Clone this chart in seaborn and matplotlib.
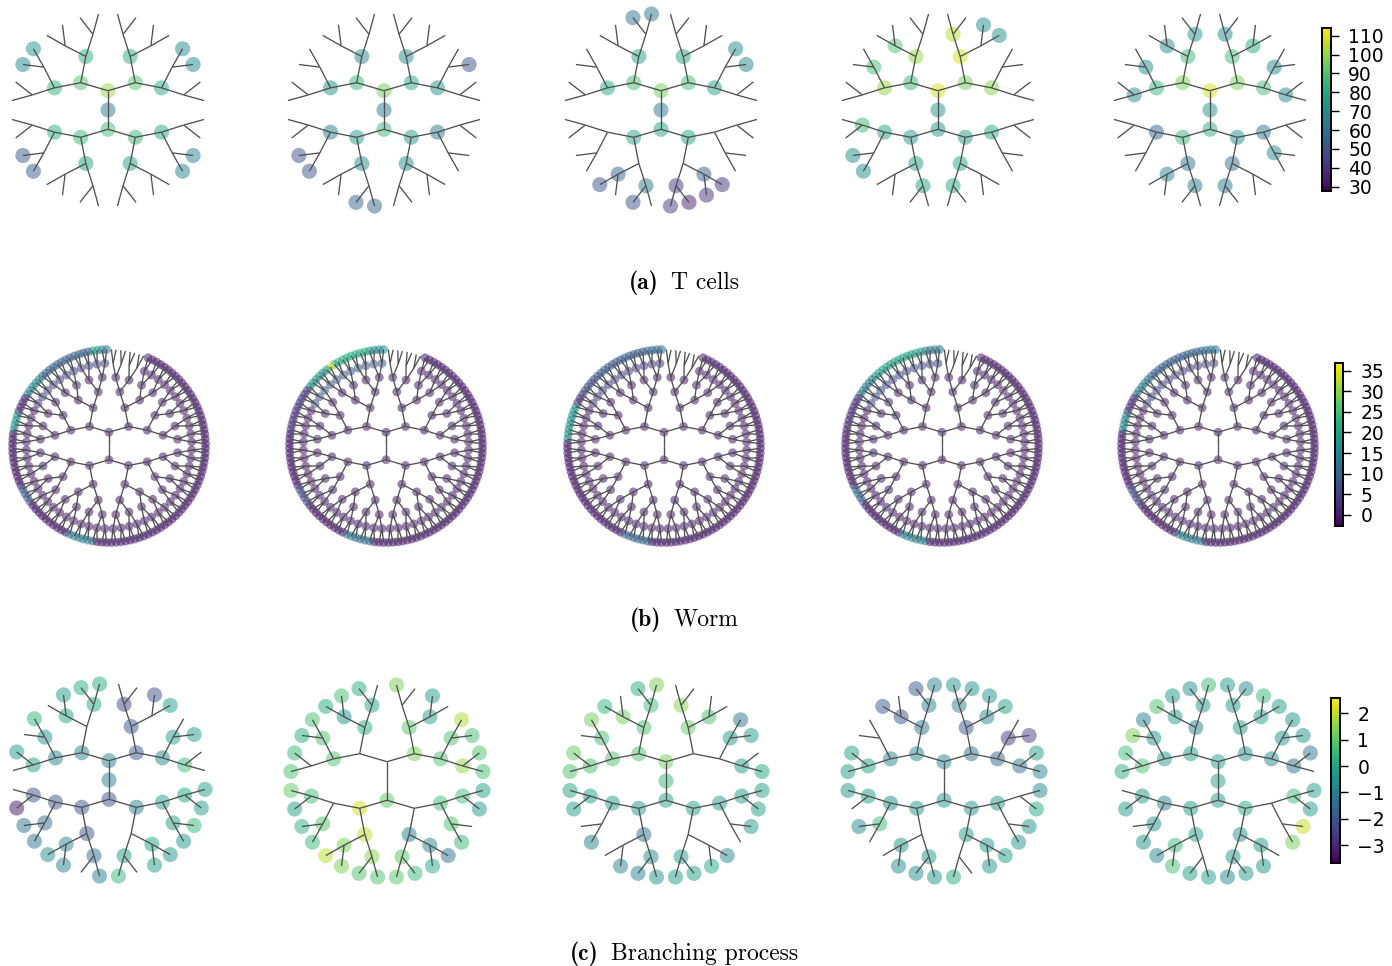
import numpy as np
import pandas as pd
import matplotlib
matplotlib.use("Agg")
import matplotlib.pyplot as plt
from matplotlib.collections import LineCollection
from matplotlib.colors import Normalize
from matplotlib.cm import ScalarMappable
import seaborn as sns

sns.set_theme(style="white")
plt.rcParams["font.family"] = ["DejaVu Sans"]

N = np.nan

# ---------------------------------------------------------------------------
# T cells: node values per generation (generation g has 2**g nodes, listed
# counterclockwise starting from the positive x axis); NaN = not observed
# ---------------------------------------------------------------------------
tcells_1 = [
    [62],
    [100, 88],
    [90, 90, 85, 85],
    [80, 82, 82, 84, 82, 78, 78, 80],
    [N] * 16,
    [N, N, 68, 68, N, N, N, N, N, N, N, N, 72, 68, N, N,
     N, N, 52, 52, N, N, N, N, N, N, N, N, 66, 66, N, N],
]
tcells_2 = [
    [62],
    [95, 85],
    [80, 85, 75, 75],
    [72, 70, 68, 70, 64, 70, 70, 62],
    [N] * 16,
    [N, N, 48, N, N, N, N, N, N, N, N, N, N, N, N, N,
     N, N, 48, 50, N, N, 55, 56, N, N, N, N, N, N, N, N],
]
tcells_3 = [
    [62],
    [95, 78],
    [88, 88, 78, 78],
    [78, 78, 78, 80, N, N, N, N],
    [N, N, N, N, N, N, N, N, N, N, 55, 62, 42, 52, N, N],
    [N, N, 68, 68, N, N, N, N, 60, 60, N, N, N, N, N, N,
     N, N, N, N, 50, N, 50, N, 42, 35, 40, 40, N, N, N, N],
]
tcells_4 = [
    [72],
    [108, 74],
    [95, 85, 74, 75],
    [98, 108, 100, 100, 78, 78, 80, 80],
    [N, N, N, 105, N, 90, 88, N, 85, N, N, 78, 80, N, N, N],
    [N, N, N, N, 70, 70, N, N, N, N, N, N, N, N, N, N,
     N, N, 70, 70, N, N, N, N, N, N, N, N, N, N, N, N],
]
tcells_5 = [
    [72],
    [108, 82],
    [96, 96, 85, 70],
    [88, 88, 86, 85, 55, 62, 60, 62],
    [70, 70, 82, 70, 72, 70, 70, 70, N, N, 66, 64, 64, N, 68, N],
    [N] * 32,
]

# ---------------------------------------------------------------------------
# Worm lineage: inner generations are all near zero; the two outer
# generations are given as runs of (count, value), None = not observed
# ---------------------------------------------------------------------------
worm_inner_value = 0.0
worm_gen6_1 = [(12, 0), (4, None), (11, 5), (37, 0)]
worm_gen7_1 = [(24, 0), (8, None), (1, 12), (1, 14), (1, 18), (1, 20), (12, 9), (5, 16),
               (4, 1), (4, 18), (12, 0), (4, 8), (10, 0), (6, 14), (35, 0)]
worm_gen6_2 = [(12, 0), (4, None), (11, 8), (37, 0)]
worm_gen7_2 = [(24, 0), (8, None), (4, 16), (8, 22), (1, 35), (6, 18), (10, 3), (12, 0),
               (4, 6), (10, 0), (6, 12), (35, 0)]
worm_gen6_3 = [(12, 0), (4, None), (11, 4), (37, 0)]
worm_gen7_3 = [(24, 0), (8, None), (4, 10), (12, 8), (5, 6), (2, 2), (8, 18), (10, 0),
               (14, 0), (6, 10), (35, 0)]
worm_gen6_4 = [(12, 0), (4, None), (11, 6), (37, 0)]
worm_gen7_4 = [(24, 0), (8, None), (4, 12), (12, 20), (5, 14), (8, 2), (12, 0), (4, 10),
               (10, 0), (6, 14), (35, 0)]
worm_gen6_5 = [(12, 0), (4, None), (11, 5), (37, 0)]
worm_gen7_5 = [(24, 0), (8, None), (4, 12), (12, 9), (5, 14), (4, 2), (4, 16), (12, 0),
               (4, 6), (10, 0), (6, 14), (35, 0)]

# ---------------------------------------------------------------------------
# Branching process: node values per generation, NaN = not observed
# ---------------------------------------------------------------------------
branch_1 = [
    [-1.0],
    [-1.0, -2.2],
    [-2.0, -1.0, -2.0, -1.0],
    [-0.8, -2.0, N, -0.9, -2.0, -2.0, N, -0.3],
    [0.6, -0.2, N, -2.3, 0.1, 0.0, -0.4, -0.1, -2.0, -1.5, -0.8, -1.3, -0.2, 0.0, -0.1, 0.0],
    [N, N, -0.2, N, -0.2, -2.2, N, N, 0.2, 0.2, -0.3, N, 0.4, N, -0.3, N,
     N, -3.4, -1.3, -1.3, -0.6, -0.9, N, -0.9, 0.5, N, -0.2, -0.4, -0.4, 0.5, -0.3, -0.2],
]
branch_2 = [
    [N],
    [N, 1.0],
    [1.3, N, 2.1, N],
    [0.8, 0.9, 0.2, 0.8, N, 1.9, -1.0, 0.6],
    [1.5, 0.8, -0.1, N, 0.1, -0.4, 0.8, N, 0.6, 0.9, 1.3, 1.4, 0.9, -0.9, 0.8, 0.6],
    [0.7, 0.8, 0.7, 1.8, N, -0.3, N, 1.3, N, 0.2, 0.7, 0.2, 0.7, 0.2, 0.5, 0.8,
     1.0, -0.1, 0.3, 0.5, 1.9, 1.3, 0.8, 0.8, 0.9, 0.6, 0.1, -1.3, 0.5, N, -0.3, -0.1],
]
branch_3 = [
    [0.5],
    [1.2, -0.2],
    [N, 0.8, -0.4, -0.2],
    [N, 1.1, 0.8, 0.8, -0.3, -1.4, N, -0.3],
    [-0.3, -0.3, 0.7, 1.4, 0.6, 1.2, 0.7, 0.7, -0.2, N, N, -0.6, -0.3, N, N, -0.3],
    [0.0, N, -0.3, -1.2, N, N, N, N, 1.3, 0.2, N, 0.4, 1.2, N, 1.1, 0.8,
     0.0, -0.2, N, -1.0, N, -0.9, -0.9, -0.5, -0.3, -0.1, 0.1, -0.8, N, -0.3, -0.2, -0.1],
]
branch_4 = [
    [N],
    [-0.9, -0.4],
    [-1.4, -0.8, -0.5, -0.5],
    [-1.6, -2.0, -1.3, -0.9, -0.6, N, -0.3, -0.4],
    [-1.4, -2.6, -0.7, -0.9, -0.9, -2.0, N, 0.0, -0.3, 0.6, -0.4, -0.4, N, -0.3, N, N],
    [-0.8, -0.2, -2.5, N, -0.1, -0.5, -0.4, -0.5, -0.9, -1.9, N, -2.0, N, N, -0.1, -0.3,
     -0.4, N, -0.8, N, N, -0.6, -0.6, -0.4, 0.2, N, -0.4, -0.2, -0.5, -0.4, 0.1, -0.8],
]
branch_5 = [
    [0.0],
    [-0.2, -0.3],
    [-0.4, -0.3, -0.4, 0.1],
    [-0.8, -0.1, -0.9, -0.3, -1.0, 0.0, -0.5, N],
    [-1.3, -0.4, -0.2, -0.3, -0.3, -0.2, -0.4, 0.8, -0.4, -0.5, 0.5, N, -0.5, -0.3, N, 0.6],
    [N, -1.2, -0.4, -0.4, -0.1, 0.5, -0.6, -0.3, 0.6, -0.5, -0.4, 0.8, -1.0, 1.3, 0.6, 0.2,
     N, -0.3, N, -0.4, -0.8, 0.7, -0.1, -0.2, -0.8, -0.3, -0.4, N, 1.2, 2.0, -0.3, -0.2],
]

tcell_ticks = [30, 40, 50, 60, 70, 80, 90, 100, 110]
worm_ticks = [0, 5, 10, 15, 20, 25, 30, 35]
branch_ticks = [-3, -2, -1, 0, 1, 2]

caption_tags = ["(a)", "(b)", "(c)"]
caption_texts = ["T cells", "Worm", "Branching process"]


def expand_runs(runs):
    out = []
    for count, value in runs:
        out += [N if value is None else value] * count
    return out


def worm_levels(gen6, gen7):
    levels = [[N]]
    for g in range(1, 6):
        levels.append([worm_inner_value] * 2 ** g)
    levels.append(expand_runs(gen6))
    levels.append(expand_runs(gen7))
    return levels


def radial_layout(levels, radius):
    """Place generation g on a circle of radius g*step, each node in the
    middle of its angular wedge; returns node table and parent-child segments."""
    depth = len(levels) - 1
    step = radius / depth
    rows, segs = [], []
    for g, vals in enumerate(levels):
        n = 2 ** g
        for j in range(n):
            ang = np.deg2rad((j + 0.5) * 360.0 / n)
            r = g * step
            x, y = r * np.cos(ang), r * np.sin(ang)
            rows.append((x, y, vals[j]))
            if g > 0:
                pang = np.deg2rad((j // 2 + 0.5) * 360.0 / (n // 2))
                pr = (g - 1) * step
                segs.append([(pr * np.cos(pang), pr * np.sin(pang)), (x, y)])
    return pd.DataFrame(rows, columns=["x", "y", "value"]), segs


W, H = 1392, 966
fig = plt.figure(figsize=(W / 100, H / 100), dpi=100)

AX = 220
LIM = 110
R_OUT = 96.5


def panel_axes(cx, cy):
    return fig.add_axes([(cx - AX / 2) / W, 1 - (cy + AX / 2) / H, AX / W, AX / H])


def draw_tree(ax, levels, norm, size, alpha=0.5):
    df, segs = radial_layout(levels, R_OUT)
    ax.add_collection(LineCollection(segs, colors="#505050", linewidths=0.95, zorder=3))
    sns.scatterplot(data=df.dropna(), x="x", y="y", hue="value", palette="viridis",
                    hue_norm=norm, s=size, alpha=alpha, linewidth=0, legend=False,
                    ax=ax, zorder=2)
    ax.set_xlim(-LIM, LIM)
    ax.set_ylim(-LIM, LIM)
    ax.set_aspect("equal")
    ax.axis("off")


def add_colorbar(x0, x1, ytop, ybot, norm, ticks):
    cax = fig.add_axes([x0 / W, 1 - ybot / H, (x1 - x0) / W, (ybot - ytop) / H])
    cb = fig.colorbar(ScalarMappable(Normalize(*norm), cmap="viridis"), cax=cax, ticks=ticks)
    cb.outline.set_linewidth(1.4)
    cb.outline.set_edgecolor("black")
    cax.tick_params(axis="y", right=True, length=6, width=1.0, color="black",
                    labelsize=13.5, labelcolor="black", pad=6.5)
    return cb


# row (a)
tcell_norm = (27.7, 114.2)
row_a_centers = [(108, 110), (384, 110), (661, 110), (938, 110), (1210, 110)]
for (cx, cy), tree in zip(row_a_centers, [tcells_1, tcells_2, tcells_3, tcells_4, tcells_5]):
    draw_tree(panel_axes(cx, cy), tree, tcell_norm, 118)
add_colorbar(1322, 1331, 27.7, 191, tcell_norm, tcell_ticks)

# row (b)
worm_norm = (-2.7, 36.9)
row_b_centers = [(109, 446), (386, 446), (664, 446), (942, 446), (1218, 446)]
worm_sets = [(worm_gen6_1, worm_gen7_1), (worm_gen6_2, worm_gen7_2), (worm_gen6_3, worm_gen7_3),
             (worm_gen6_4, worm_gen7_4), (worm_gen6_5, worm_gen7_5)]
for (cx, cy), (g6, g7) in zip(row_b_centers, worm_sets):
    draw_tree(panel_axes(cx, cy), worm_levels(g6, g7), worm_norm, 40, alpha=0.55)
add_colorbar(1335, 1343, 362.7, 526, worm_norm, worm_ticks)

# row (c)
branch_norm = (-3.67, 2.57)
row_c_centers = [(109, 780), (387, 781), (666, 781), (944, 781), (1218, 781)]
for (cx, cy), tree in zip(row_c_centers, [branch_1, branch_2, branch_3, branch_4, branch_5]):
    draw_tree(panel_axes(cx, cy), tree, branch_norm, 118)
add_colorbar(1331, 1340, 698.3, 862.7, branch_norm, branch_ticks)

# captions: bold tag followed by roman title, centred as one line
renderer = fig.canvas.get_renderer()
CAP_SIZE = 17
GAP = 12
for tag, title, ybase in zip(caption_tags, caption_texts, [289, 626, 960]):
    t1 = fig.text(0, 1 - ybase / H, tag, ha="left", va="baseline",
                  fontsize=CAP_SIZE, family="cmb10", color="black")
    t2 = fig.text(0, 1 - ybase / H, title, ha="left", va="baseline",
                  fontsize=CAP_SIZE, family="cmr10", color="black")
    w1 = t1.get_window_extent(renderer).width
    w2 = t2.get_window_extent(renderer).width
    x0 = 684 - (w1 + GAP + w2) / 2
    t1.set_x(x0 / W)
    t2.set_x((x0 + w1 + GAP) / W)

fig.savefig("out.png", dpi=100)
